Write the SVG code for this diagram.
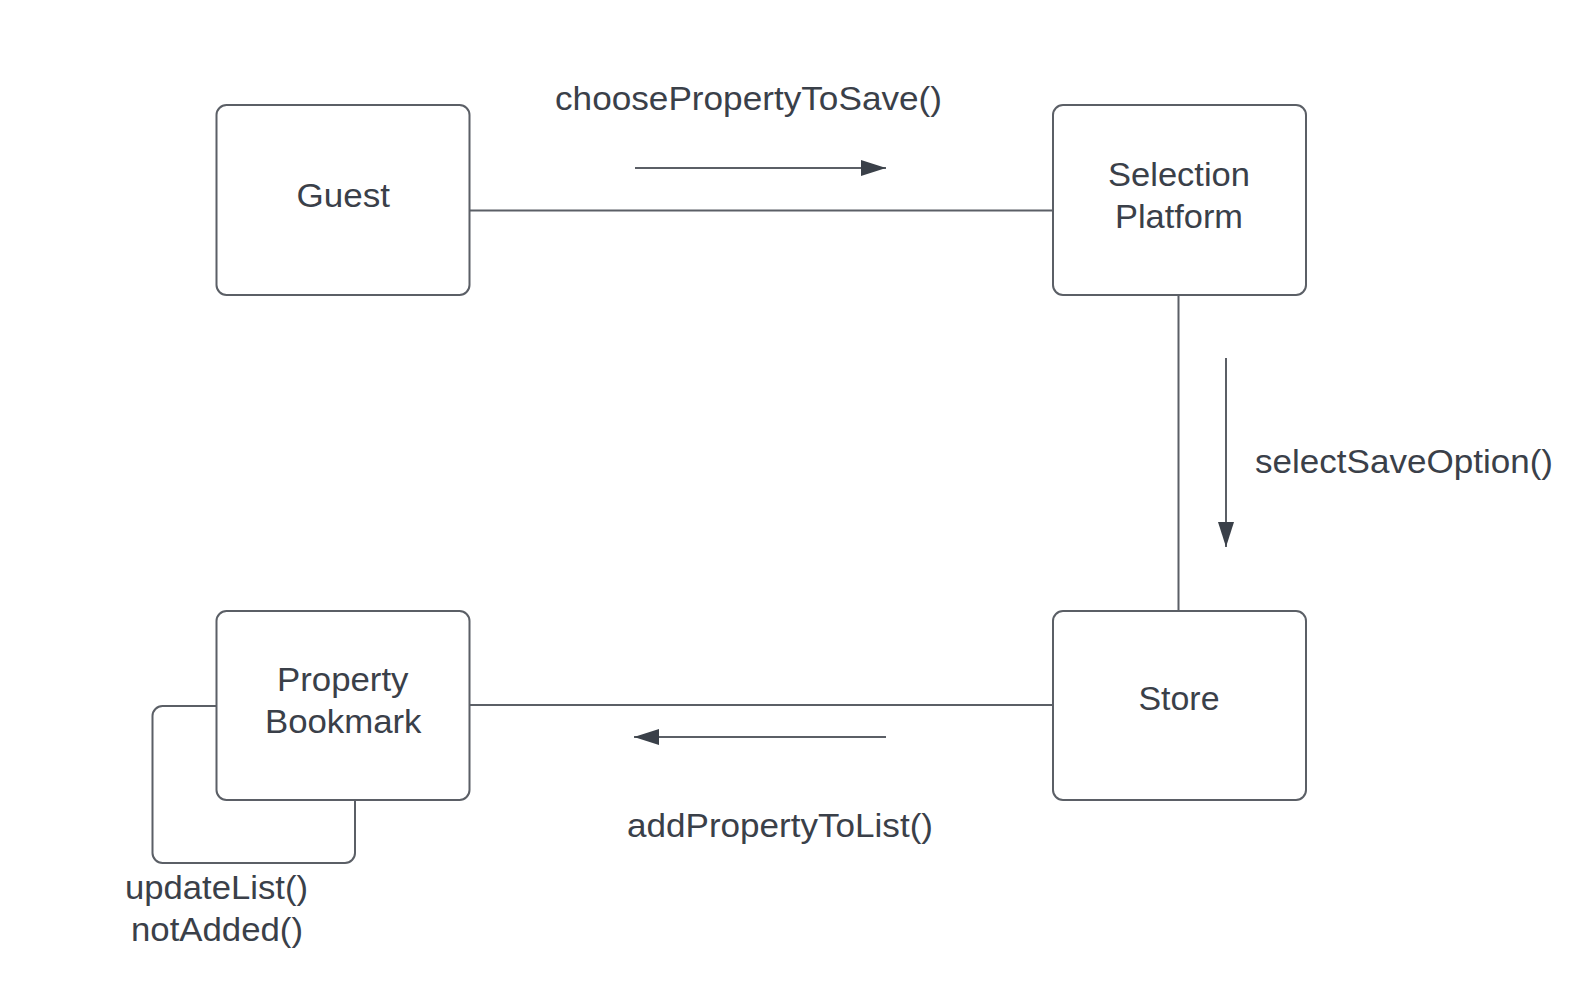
<svg xmlns="http://www.w3.org/2000/svg" width="1586" height="1005" viewBox="0 0 1586 1005">
<defs>
<style>
.box{fill:#ffffff;stroke:#5b5f66;stroke-width:2}
.conn{fill:none;stroke:#5b5f66;stroke-width:2}
.msg{fill:none;stroke:#5b5f66;stroke-width:2}
text{font-family:"Liberation Sans",Arial,sans-serif;font-size:33px;fill:#3a4049}
</style>
<marker id="ah" markerUnits="userSpaceOnUse" markerWidth="26" markerHeight="16" refX="25" refY="8" orient="auto" viewBox="0 0 26 16">
<path d="M0,0 L25,8 L0,16 Z" fill="#3a4049"/>
</marker>
</defs>
<rect width="1586" height="1005" fill="#ffffff"/>
<g id="connectors">
<line class="conn" x1="469" y1="210.5" x2="1053" y2="210.5"/>
<line class="conn" x1="1178.5" y1="295" x2="1178.5" y2="611"/>
<line class="conn" x1="469" y1="705" x2="1053" y2="705"/>
<path class="conn" d="M216.5,706 H162.5 A10,10 0 0 0 152.5,716 V853 A10,10 0 0 0 162.5,863 H345 A10,10 0 0 0 355,853 V800"/>
<line class="msg" x1="635" y1="168" x2="886" y2="168" marker-end="url(#ah)"/>
<line class="msg" x1="1226" y1="358" x2="1226" y2="547" marker-end="url(#ah)"/>
<line class="msg" x1="886" y1="737" x2="634" y2="737" marker-end="url(#ah)"/>
<text x="555" y="110" textLength="387" lengthAdjust="spacingAndGlyphs">choosePropertyToSave()</text>
<text x="1255" y="473" textLength="298" lengthAdjust="spacingAndGlyphs">selectSaveOption()</text>
<text x="627" y="837" textLength="306" lengthAdjust="spacingAndGlyphs">addPropertyToList()</text>
<text x="125" y="899" textLength="183" lengthAdjust="spacingAndGlyphs">updateList()</text>
<text x="131" y="941" textLength="172" lengthAdjust="spacingAndGlyphs">notAdded()</text>
</g>
<g id="guest">
<rect class="box" x="216.5" y="105" width="253" height="190" rx="10"/>
<text x="296.5" y="207" textLength="93.5" lengthAdjust="spacingAndGlyphs">Guest</text>
</g>
<g id="selection-platform">
<rect class="box" x="1053" y="105" width="253" height="190" rx="10"/>
<text x="1108" y="186" textLength="142" lengthAdjust="spacingAndGlyphs">Selection</text>
<text x="1115" y="228" textLength="128" lengthAdjust="spacingAndGlyphs">Platform</text>
</g>
<g id="store">
<rect class="box" x="1053" y="611" width="253" height="189" rx="10"/>
<text x="1138.5" y="710" textLength="81" lengthAdjust="spacingAndGlyphs">Store</text>
</g>
<g id="property-bookmark">
<rect class="box" x="216.5" y="611" width="253" height="189" rx="10"/>
<text x="277" y="691" textLength="131.5" lengthAdjust="spacingAndGlyphs">Property</text>
<text x="265" y="733" textLength="156.5" lengthAdjust="spacingAndGlyphs">Bookmark</text>
</g>
</svg>
